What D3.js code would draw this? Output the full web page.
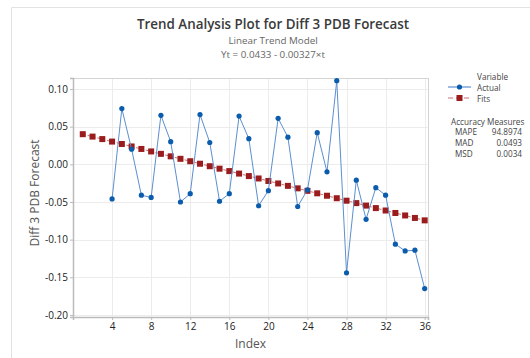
<!DOCTYPE html>
<html>
<head>
<meta charset="utf-8">
<script src="https://cdn.jsdelivr.net/npm/d3@7"></script>
<style>
  body { margin: 0; background: #fff; }
  text { font-family: "Open Sans", "Noto Sans", sans-serif; }
</style>
</head>
<body>
<div id="chart"></div>
<script>
// Data
const actualIndex = [4, 5, 6, 7, 8, 9, 10, 11, 12, 13, 14, 15, 16, 17, 18, 19, 20,
  21, 22, 23, 24, 25, 26, 27, 28, 29, 30, 31, 32, 33, 34, 35, 36];
const actualValues = [-0.046, 0.074, 0.020, -0.041, -0.044, 0.065, 0.030, -0.050, -0.039,
  0.066, 0.029, -0.049, -0.039, 0.064, 0.034, -0.055, -0.035, 0.061, 0.036, -0.056,
  -0.034, 0.042, -0.010, 0.111, -0.144, -0.021, -0.073, -0.031, -0.041, -0.106,
  -0.115, -0.114, -0.165];
const fitsIndex = [1, 2, 3, 4, 5, 6, 7, 8, 9, 10, 11, 12, 13, 14, 15, 16, 17, 18,
  19, 20, 21, 22, 23, 24, 25, 26, 27, 28, 29, 30, 31, 32, 33, 34, 35, 36];
const fitsValues = [0.0400, 0.0368, 0.0335, 0.0302, 0.0270, 0.0237, 0.0204, 0.0171,
  0.0139, 0.0106, 0.0073, 0.0041, 0.0008, -0.0025, -0.0058, -0.0090, -0.0123, -0.0156,
  -0.0188, -0.0221, -0.0254, -0.0286, -0.0319, -0.0352, -0.0385, -0.0417, -0.0450,
  -0.0483, -0.0515, -0.0548, -0.0581, -0.0613, -0.0646, -0.0679, -0.0712, -0.0744];
const xTicks = [4, 8, 12, 16, 20, 24, 28, 32, 36];
const yTicks = [0.10, 0.05, 0.00, -0.05, -0.10, -0.15, -0.20];
const measureNames = ['MAPE', 'MAD', 'MSD'];
const measureValues = ['94.8974', '0.0493', '0.0034'];

const width = 530, height = 358;
const plot = { left: 73, top: 78, right: 428, bottom: 317 };

const svg = d3.select('#chart')
  .append('svg')
    .attr('width', width)
    .attr('height', height);

// Outer frame
svg.append('path')
  .attr('d', 'M11.5,' + height + 'V7.5H' + width)
  .attr('fill', 'none')
  .attr('stroke', '#e2e2e2');

// Titles
svg.append('text')
  .attr('x', 273).attr('y', 29)
  .attr('text-anchor', 'middle')
  .attr('font-size', 13.4).attr('font-weight', 600)
  .attr('fill', '#3a3a3a')
  .text('Trend Analysis Plot for Diff 3 PDB Forecast');
svg.append('text')
  .attr('x', 273).attr('y', 44)
  .attr('text-anchor', 'middle')
  .attr('font-size', 9.8).attr('fill', '#666')
  .text('Linear Trend Model');
svg.append('text')
  .attr('x', 273).attr('y', 57.5)
  .attr('text-anchor', 'middle')
  .attr('font-size', 9.8).attr('fill', '#666')
  .text('Yt = 0.0433 - 0.00327×t');

// Scales
const x = d3.scaleLinear()
  .domain([0, 36.34])
  .range([plot.left, plot.right]);
const y = d3.scaleLinear()
  .domain([-0.2027, 0.1146])
  .range([plot.bottom, plot.top]);

// Gridlines
const grid = svg.append('g').attr('stroke', '#ececec').attr('stroke-width', 1);
grid.selectAll('.vg').data(xTicks).join('line')
  .attr('x1', (d) => Math.round(x(d)) + 0.5).attr('x2', (d) => Math.round(x(d)) + 0.5)
  .attr('y1', plot.top).attr('y2', plot.bottom);
grid.selectAll('.hg').data(yTicks).join('line')
  .attr('x1', plot.left).attr('x2', plot.right)
  .attr('y1', (d) => Math.round(y(d)) + 0.5).attr('y2', (d) => Math.round(y(d)) + 0.5);

// Plot border
svg.append('rect')
  .attr('x', plot.left + 0.5).attr('y', plot.top + 0.5)
  .attr('width', plot.right - plot.left).attr('height', plot.bottom - plot.top)
  .attr('fill', 'none').attr('stroke', '#d4d4d4');

// X axis
const xAxis = svg.append('g')
  .attr('transform', 'translate(0,' + plot.bottom + ')')
  .call(d3.axisBottom(x).tickValues(xTicks).tickSize(3).tickPadding(3));
xAxis.select('.domain').attr('stroke', '#bbb').attr('stroke-width', 1.5);
xAxis.selectAll('.tick line').attr('stroke', '#bbb');
xAxis.selectAll('.tick text')
  .attr('font-size', 10).attr('fill', '#222').attr('font-weight', 500)
  .style('font-family', '"Open Sans", sans-serif');

// Y axis
const yAxis = svg.append('g')
  .attr('transform', 'translate(' + plot.left + ',0)')
  .call(d3.axisLeft(y).tickValues(yTicks).tickSize(3).tickPadding(2));
yAxis.select('.domain').attr('stroke', '#bbb').attr('stroke-width', 1.5);
yAxis.selectAll('.tick line').attr('stroke', '#bbb');
yAxis.selectAll('.tick text')
  .attr('font-size', 10).attr('fill', '#222').attr('font-weight', 500)
  .style('font-family', '"Open Sans", sans-serif')
  .text((d) => d3.format('.2f')(d).replace('−', '-'));

// Axis labels
svg.append('text')
  .attr('x', (plot.left + plot.right) / 2).attr('y', 348)
  .attr('text-anchor', 'middle')
  .attr('font-size', 12).attr('fill', '#555')
  .text('Index');
svg.append('text')
  .attr('transform', 'translate(39,' + 193 + ') rotate(-90)')
  .attr('text-anchor', 'middle')
  .attr('font-size', 12).attr('fill', '#555')
  .text('Diff 3 PDB Forecast');

// Fits series
const fits = fitsIndex.map((t, i) => ({ x: t, y: fitsValues[i] }));
svg.append('path')
  .datum(fits)
  .attr('fill', 'none')
  .attr('stroke', '#c87070')
  .attr('stroke-width', 1)
  .attr('stroke-dasharray', '3,2')
  .attr('d', d3.line().x((d) => x(d.x)).y((d) => y(d.y)));
svg.selectAll('.fit').data(fits).join('rect')
  .attr('x', (d) => x(d.x) - 3).attr('y', (d) => y(d.y) - 3)
  .attr('width', 6).attr('height', 6)
  .attr('fill', '#9b1c1c');

// Actual series
const actual = actualIndex.map((t, i) => ({ x: t, y: actualValues[i] }));
svg.append('path')
  .datum(actual)
  .attr('fill', 'none')
  .attr('stroke', '#5b8fd0')
  .attr('stroke-width', 1)
  .attr('d', d3.line().x((d) => x(d.x)).y((d) => y(d.y)));
svg.selectAll('.act').data(actual).join('circle')
  .attr('cx', (d) => x(d.x)).attr('cy', (d) => y(d.y))
  .attr('r', 2.6)
  .attr('fill', '#0b5cad');

// Legend
const legend = svg.append('g').attr('font-size', 8.2).attr('fill', '#444');
legend.append('text').attr('x', 477).attr('y', 80).text('Variable');
legend.append('line')
  .attr('x1', 448).attr('x2', 471).attr('y1', 87).attr('y2', 87)
  .attr('stroke', '#5b8fd0').attr('stroke-width', 1.2);
legend.append('circle').attr('cx', 459.5).attr('cy', 87).attr('r', 2.6).attr('fill', '#0b5cad');
legend.append('text').attr('x', 477).attr('y', 91).text('Actual');
legend.append('line')
  .attr('x1', 448).attr('x2', 471).attr('y1', 98).attr('y2', 98)
  .attr('stroke', '#c87070').attr('stroke-width', 1.2).attr('stroke-dasharray', '5,3');
legend.append('rect').attr('x', 456.5).attr('y', 95).attr('width', 6).attr('height', 6).attr('fill', '#9b1c1c');
legend.append('text').attr('x', 477).attr('y', 102).text('Fits');

legend.append('text').attr('x', 451).attr('y', 125).text('Accuracy Measures');
measureNames.forEach((name, i) => {
  legend.append('text').attr('x', 455).attr('y', 135 + i * 11).text(name);
  legend.append('text').attr('x', 522).attr('y', 135 + i * 11)
    .attr('text-anchor', 'end').text(measureValues[i]);
});
</script>
</body>
</html>
